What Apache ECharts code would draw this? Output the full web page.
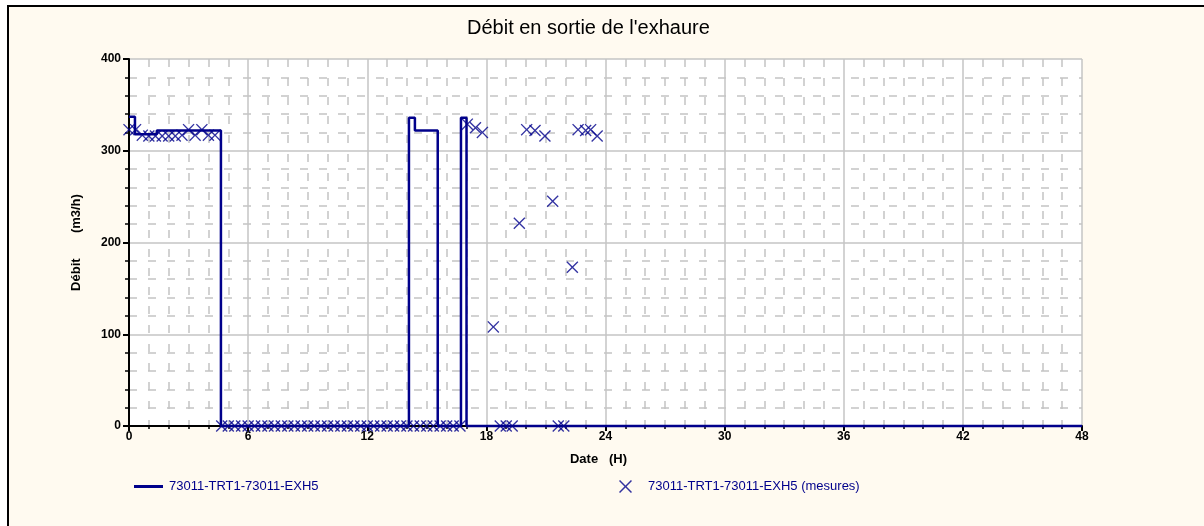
<!DOCTYPE html>
<html>
<head>
<meta charset="utf-8">
<script src="https://cdn.jsdelivr.net/npm/echarts@6/dist/echarts.min.js"></script>
<style>
  html, body { margin: 0; padding: 0; background: #ffffff; }
  #wrap { position: relative; width: 1204px; height: 526px; overflow: hidden; }
  #frame { position: absolute; left: 7px; top: 5px; width: 1200px; height: 530px;
           background: #fffaf0; border-left: 2px solid #000; border-top: 2px solid #000; }
  #chart { position: absolute; left: 0; top: 0; width: 1204px; height: 526px; }
</style>
</head>
<body>
<div id="wrap">
  <div id="frame"></div>
  <div id="chart"></div>
</div>
<script>
// Flow curve: change points (hours) and the flow held from each one (m3/h)
const lineTimes  = [0, 0.3, 1.4, 4.63, 14.1, 14.4, 15.55, 16.72, 17.0, 48];
const lineValues = [337, 318, 322, 0, 336, 322, 0, 336, 0, 0];

// Measured flow samples (hours, m3/h)
const measTimes = [
  0, 0.33, 0.67, 1.0, 1.33, 1.67, 2.0, 2.33, 2.67, 3.0, 3.33, 3.67, 4.0, 4.33,
  4.67, 5.0, 5.33, 5.67, 6.0, 6.33, 6.67, 7.0, 7.33, 7.67, 8.0, 8.33, 8.67,
  9.0, 9.33, 9.67, 10.0, 10.33, 10.67, 11.0, 11.33, 11.67, 12.0, 12.33, 12.67,
  13.0, 13.33, 13.67, 14.0, 14.33, 14.67, 15.0, 15.33, 15.67, 16.0, 16.33, 16.67,
  17.04, 17.45, 17.8, 18.35, 18.7, 19.0, 19.3, 19.66, 20.03, 20.45, 20.95,
  21.34, 21.62, 21.9, 22.33, 22.62, 23.0, 23.25, 23.58
];
const measValues = [
  323, 323, 317, 316, 316, 316, 316, 316, 317, 323, 317, 323, 317, 317,
  0, 0, 0, 0, 0, 0, 0, 0, 0, 0, 0, 0, 0,
  0, 0, 0, 0, 0, 0, 0, 0, 0, 0, 0, 0,
  0, 0, 0, 0, 0, 0, 0, 0, 0, 0, 0, 0,
  329, 325, 320, 108, 0, 0, 0, 221, 323, 322, 316,
  245, 0, 0, 173, 323, 322, 323, 316
];

const xTicks = [0, 6, 12, 18, 24, 30, 36, 42, 48];
const yTicks = [0, 100, 200, 300, 400];

const titleText = "Débit en sortie de l'exhaure";
const xName = 'Date   (H)';
const yName = 'Débit       (m3/h)';
const lineName = '73011-TRT1-73011-EXH5';
const measName = '73011-TRT1-73011-EXH5 (mesures)';

const NAVY = '#00008b';
const FONT = "'Liberation Sans', Arial, sans-serif";
const CROSS = 'path://M0,0.8L0.8,0L5,4.2L9.2,0L10,0.8L5.8,5L10,9.2L9.2,10L5,5.8L0.8,10L0,9.2L4.2,5Z';

const gridColor = '#c4c4c4';

const chart = echarts.init(document.getElementById('chart'), null, { renderer: 'canvas' });

chart.setOption({
  backgroundColor: 'transparent',
  animation: false,
  title: {
    text: titleText,
    left: 462,
    top: 13,
    textStyle: { fontFamily: FONT, fontSize: 20, fontWeight: 'normal', color: '#000' }
  },
  legend: [
    {
      left: 129, top: 475,
      itemWidth: 29, itemHeight: 3, itemGap: 10,
      data: [{ name: lineName, icon: 'rect' }],
      textStyle: { fontFamily: FONT, fontSize: 13, color: NAVY, padding: [0, 0, 0, 1] }
    },
    {
      left: 614, top: 475,
      itemWidth: 13, itemHeight: 13,
      data: [{ name: measName, icon: CROSS }],
      textStyle: { fontFamily: FONT, fontSize: 13, color: NAVY, padding: [0, 0, 0, 11] }
    }
  ],
  grid: {
    left: 129, top: 59, right: 122, bottom: 100,
    show: true, backgroundColor: '#ffffff', borderWidth: 0,
    containLabel: false, outerBoundsMode: 'none'
  },
  xAxis: {
    type: 'value', min: xTicks[0], max: xTicks[xTicks.length - 1], interval: 6,
    name: xName, nameLocation: 'middle', nameGap: 27,
    nameTextStyle: { fontFamily: FONT, fontSize: 13, fontWeight: 'bold', color: '#000', padding: [0, 14, 0, 0] },
    axisLine: { show: true, onZero: false, lineStyle: { color: '#000', width: 2 } },
    axisTick: { show: true, length: 5, lineStyle: { color: '#000', width: 2 } },
    minorTick: { show: true, splitNumber: 6, length: 3, lineStyle: { color: '#000', width: 1.5 } },
    axisLabel: {
      fontFamily: FONT, fontSize: 12, fontWeight: 'bold', color: '#000', margin: 5,
      formatter: v => (xTicks.indexOf(v) >= 0 ? String(v) : '')
    },
    splitLine: { show: true, lineStyle: { color: gridColor, width: 1.5 } },
    minorSplitLine: { show: true, lineStyle: { color: gridColor, width: 1.5, type: [8, 11] } }
  },
  yAxis: {
    type: 'value', min: yTicks[0], max: yTicks[yTicks.length - 1], interval: 100,
    name: yName, nameLocation: 'middle', nameGap: 46,
    nameTextStyle: { fontFamily: FONT, fontSize: 13, fontWeight: 'bold', color: '#000' },
    axisLine: { show: true, onZero: false, lineStyle: { color: '#000', width: 2 } },
    axisTick: { show: true, length: 6, lineStyle: { color: '#000', width: 2 } },
    minorTick: { show: true, splitNumber: 5, length: 4, lineStyle: { color: '#000', width: 1.5 } },
    axisLabel: {
      fontFamily: FONT, fontSize: 12, fontWeight: 'bold', color: '#000', margin: 8,
      formatter: v => (yTicks.indexOf(v) >= 0 ? String(v) : '')
    },
    splitLine: { show: true, lineStyle: { color: gridColor, width: 1.5 } },
    minorSplitLine: { show: true, lineStyle: { color: gridColor, width: 1.5, type: [8, 11] } }
  },
  series: [
    {
      name: lineName,
      type: 'line',
      step: 'end',
      clip: false,
      showSymbol: false,
      symbol: 'none',
      z: 3,
      color: NAVY,
      lineStyle: { color: NAVY, width: 2.5 },
      data: lineTimes.map((t, i) => [t, lineValues[i]])
    },
    {
      name: measName,
      type: 'scatter',
      clip: false,
      symbol: CROSS,
      symbolSize: 12,
      z: 4,
      color: NAVY,
      itemStyle: { color: NAVY },
      data: measTimes.map((t, i) => [t, measValues[i]])
    }
  ]
});
</script>
</body>
</html>
